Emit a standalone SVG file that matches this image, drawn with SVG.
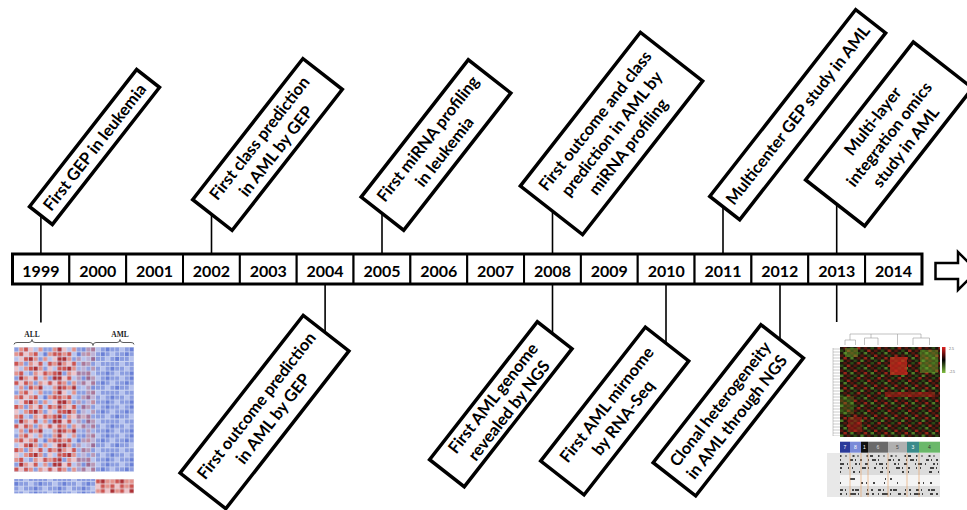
<svg xmlns="http://www.w3.org/2000/svg" width="967" height="510" viewBox="0 0 967 510">
<style>
.box{fill:#fff;stroke:#000;stroke-width:3.5}
.lbl{font-family:Lato,"Open Sans",sans-serif;font-weight:700;font-size:16.5px;text-anchor:middle;fill:#000}
.yr{font-family:Lato,"Open Sans",sans-serif;font-weight:700;font-size:16px;text-anchor:middle;fill:#000}
.cell{fill:#fff;stroke:#000;stroke-width:2}
.conn line{stroke:#000;stroke-width:1.6}
.R{fill:#cd5450}.D{fill:#ad3034}.S{fill:#e4928b}.P{fill:#efc4c9}.L{fill:#b7c3ee}.B{fill:#8b9de0}.K{fill:#6a80d6}
.hr{fill:#561810}.hR{fill:#9a2418}.hg{fill:#2c4a16}.hG{fill:#4f7f28}
.mut{stroke:#111;stroke-width:1.6;fill:none}
.sep{stroke:#e8a060;stroke-width:0.6}
.tiny{font-family:"Liberation Sans",sans-serif;font-size:5px;text-anchor:middle}
</style>
<defs>
<pattern id="pL" x="14" y="347" width="33.6" height="43.2" patternUnits="userSpaceOnUse">
<rect width="33.6" height="43.2" fill="#d8def3"/>
<path class="B" d="M0.4 0.4h4v4h-4zM29.2 0.4h4v4h-4zM24.4 10h4v4h-4zM10 14.8h4v4h-4zM29.2 19.6h4v4h-4zM14.8 24.4h4v4h-4zM0.4 29.2h4v4h-4zM19.6 34h4v4h-4zM10 38.8h4v4h-4z"/>
<path class="S" d="M5.2 0.4h4v4h-4zM24.4 0.4h4v4h-4zM0.4 5.2h4v4h-4zM14.8 5.2h4v4h-4zM19.6 10h4v4h-4zM29.2 10h4v4h-4zM5.2 14.8h4v4h-4zM14.8 14.8h4v4h-4zM10 19.6h4v4h-4zM24.4 19.6h4v4h-4zM0.4 24.4h4v4h-4zM19.6 24.4h4v4h-4zM10 29.2h4v4h-4zM29.2 29.2h4v4h-4zM14.8 34h4v4h-4zM24.4 34h4v4h-4zM5.2 38.8h4v4h-4zM19.6 38.8h4v4h-4z"/>
<path class="R" d="M10 0.4h4v4h-4zM5.2 5.2h4v4h-4zM19.6 5.2h4v4h-4zM10 10h4v4h-4zM0.4 14.8h4v4h-4zM24.4 14.8h4v4h-4zM14.8 19.6h4v4h-4zM5.2 24.4h4v4h-4zM29.2 24.4h4v4h-4zM19.6 29.2h4v4h-4zM0.4 34h4v4h-4zM10 34h4v4h-4zM14.8 38.8h4v4h-4z"/>
<path class="P" d="M14.8 0.4h4v4h-4zM10 5.2h4v4h-4zM5.2 10h4v4h-4zM19.6 14.8h4v4h-4zM0.4 19.6h4v4h-4zM24.4 24.4h4v4h-4zM14.8 29.2h4v4h-4zM5.2 34h4v4h-4zM29.2 34h4v4h-4z"/>
<path class="L" d="M19.6 0.4h4v4h-4zM24.4 5.2h4v4h-4zM0.4 10h4v4h-4zM29.2 14.8h4v4h-4zM5.2 19.6h4v4h-4zM10 24.4h4v4h-4zM24.4 29.2h4v4h-4zM0.4 38.8h4v4h-4zM29.2 38.8h4v4h-4z"/>
<path class="D" d="M14.8 10h4v4h-4zM19.6 19.6h4v4h-4zM5.2 29.2h4v4h-4zM24.4 38.8h4v4h-4z"/>
<path class="K" d="M29.2 5.2h4v4h-4z"/>
</pattern>
<pattern id="pB" x="14" y="347" width="24" height="28.8" patternUnits="userSpaceOnUse">
<rect width="24" height="28.8" fill="#d0d8f2"/>
<path class="B" d="M0.4 0.4h4v4h-4zM5.2 0.4h4v4h-4zM14.8 0.4h4v4h-4zM5.2 5.2h4v4h-4zM10 5.2h4v4h-4zM19.6 5.2h4v4h-4zM0.4 10h4v4h-4zM10 10h4v4h-4zM14.8 10h4v4h-4zM0.4 14.8h4v4h-4zM5.2 14.8h4v4h-4zM14.8 14.8h4v4h-4zM19.6 14.8h4v4h-4zM5.2 19.6h4v4h-4zM10 19.6h4v4h-4zM19.6 19.6h4v4h-4zM0.4 24.4h4v4h-4zM10 24.4h4v4h-4zM14.8 24.4h4v4h-4z"/>
<path class="L" d="M10 0.4h4v4h-4zM0.4 5.2h4v4h-4zM19.6 10h4v4h-4zM10 14.8h4v4h-4zM14.8 19.6h4v4h-4zM5.2 24.4h4v4h-4z"/>
<path class="K" d="M19.6 0.4h4v4h-4zM14.8 5.2h4v4h-4zM5.2 10h4v4h-4zM0.4 19.6h4v4h-4zM19.6 24.4h4v4h-4z"/>
</pattern>
<pattern id="pS" x="14" y="479" width="19.2" height="14.4" patternUnits="userSpaceOnUse">
<rect width="19.2" height="14.4" fill="#e6d6dc"/>
<path class="S" d="M0.4 0.4h4v4h-4zM14.8 0.4h4v4h-4zM14.8 5.2h4v4h-4zM5.2 10h4v4h-4z"/>
<path class="R" d="M5.2 0.4h4v4h-4zM0.4 5.2h4v4h-4zM10 5.2h4v4h-4zM10 10h4v4h-4z"/>
<path class="D" d="M10 0.4h4v4h-4zM0.4 10h4v4h-4z"/>
<path class="P" d="M5.2 5.2h4v4h-4zM14.8 10h4v4h-4z"/>
</pattern>
<pattern id="pC" x="57.2" y="347" width="4.8" height="14.4" patternUnits="userSpaceOnUse">
<rect width="4.8" height="14.4" fill="#d8def3"/>
<path class="D" d="M0.4 0.4h4v4h-4zM0.4 10h4v4h-4z"/>
<path class="R" d="M0.4 5.2h4v4h-4z"/>
</pattern>
<pattern id="pRG" x="840" y="347" width="20.4" height="15" patternUnits="userSpaceOnUse">
<rect width="20.4" height="15" fill="#1e150d"/>
<path class="hr" d="M3.4 0h3.4v2.5h-3.4zM13.6 2.5h3.4v2.5h-3.4zM10.2 5h3.4v2.5h-3.4zM0 7.5h3.4v2.5h-3.4zM17 10h3.4v2.5h-3.4zM6.8 12.5h3.4v2.5h-3.4z"/>
<path class="hR" d="M17 0h3.4v2.5h-3.4zM6.8 2.5h3.4v2.5h-3.4zM13.6 7.5h3.4v2.5h-3.4zM3.4 10h3.4v2.5h-3.4z"/>
<path class="hg" d="M10.2 0h3.4v2.5h-3.4zM0 2.5h3.4v2.5h-3.4zM17 5h3.4v2.5h-3.4zM6.8 7.5h3.4v2.5h-3.4zM13.6 12.5h3.4v2.5h-3.4z"/>
<path class="hG" d="M3.4 5h3.4v2.5h-3.4zM10.2 10h3.4v2.5h-3.4zM0 12.5h3.4v2.5h-3.4z"/>
</pattern>
<pattern id="pDen" x="833" y="348" width="7" height="3" patternUnits="userSpaceOnUse">
<line x1="0" y1="1" x2="7" y2="1" stroke="#999" stroke-width="0.5"/>
</pattern>
<linearGradient id="gLeg" x1="0" y1="0" x2="0" y2="1">
<stop offset="0" stop-color="#e02020"/>
<stop offset="0.5" stop-color="#000"/>
<stop offset="1" stop-color="#80c040"/>
</linearGradient>
</defs>
<rect width="967" height="510" fill="#fff"/>

<g id="connectors" class="conn">
<line x1="40.9" y1="211" x2="40.9" y2="254"/>
<line x1="211.5" y1="209" x2="211.5" y2="254"/>
<line x1="382" y1="208" x2="382" y2="254"/>
<line x1="552.5" y1="206" x2="552.5" y2="254"/>
<line x1="723" y1="202" x2="723" y2="254"/>
<line x1="836.7" y1="198" x2="836.7" y2="254"/>
<line x1="40.9" y1="284" x2="40.9" y2="322.5"/>
<line x1="325.1" y1="284" x2="325.1" y2="338"/>
<line x1="552.5" y1="284" x2="552.5" y2="339"/>
<line x1="666" y1="284" x2="666" y2="348"/>
<line x1="780" y1="284" x2="780" y2="345"/>
<line x1="836.7" y1="284" x2="836.7" y2="322"/>
</g>

<g id="timeline">
<g id="y1999"><rect class="cell" x="12.5" y="254" width="56.84" height="30"/><text class="yr" x="40.9" y="277">1999</text></g>
<g id="y2000"><rect class="cell" x="69.34" y="254" width="56.84" height="30"/><text class="yr" x="97.8" y="277">2000</text></g>
<g id="y2001"><rect class="cell" x="126.18" y="254" width="56.84" height="30"/><text class="yr" x="154.6" y="277">2001</text></g>
<g id="y2002"><rect class="cell" x="183.02" y="254" width="56.84" height="30"/><text class="yr" x="211.4" y="277">2002</text></g>
<g id="y2003"><rect class="cell" x="239.86" y="254" width="56.84" height="30"/><text class="yr" x="268.3" y="277">2003</text></g>
<g id="y2004"><rect class="cell" x="296.7" y="254" width="56.84" height="30"/><text class="yr" x="325.1" y="277">2004</text></g>
<g id="y2005"><rect class="cell" x="353.54" y="254" width="56.84" height="30"/><text class="yr" x="382" y="277">2005</text></g>
<g id="y2006"><rect class="cell" x="410.38" y="254" width="56.84" height="30"/><text class="yr" x="438.8" y="277">2006</text></g>
<g id="y2007"><rect class="cell" x="467.22" y="254" width="56.84" height="30"/><text class="yr" x="495.6" y="277">2007</text></g>
<g id="y2008"><rect class="cell" x="524.06" y="254" width="56.84" height="30"/><text class="yr" x="552.5" y="277">2008</text></g>
<g id="y2009"><rect class="cell" x="580.9" y="254" width="56.84" height="30"/><text class="yr" x="609.3" y="277">2009</text></g>
<g id="y2010"><rect class="cell" x="637.74" y="254" width="56.84" height="30"/><text class="yr" x="666.2" y="277">2010</text></g>
<g id="y2011"><rect class="cell" x="694.58" y="254" width="56.84" height="30"/><text class="yr" x="723" y="277">2011</text></g>
<g id="y2012"><rect class="cell" x="751.42" y="254" width="56.84" height="30"/><text class="yr" x="779.8" y="277">2012</text></g>
<g id="y2013"><rect class="cell" x="808.26" y="254" width="56.84" height="30"/><text class="yr" x="836.7" y="277">2013</text></g>
<g id="y2014"><rect class="cell" x="865.1" y="254" width="56.84" height="30"/><text class="yr" x="893.5" y="277">2014</text></g>
<rect x="12.5" y="254" width="909.5" height="30" fill="none" stroke="#000" stroke-width="3"/>
</g>
<g id="arrow"><polygon points="935.5,263 958,263 958,252 977,271 958,290 958,279 935.5,279" fill="#fff" stroke="#000" stroke-width="2.5" stroke-linejoin="miter"/></g>

<g id="e1999" transform="translate(94.5,147) rotate(-52)"><rect class="box" x="-87" y="-14.5" width="174" height="29"/><text class="lbl" y="6">First GEP in leukemia</text></g>
<g id="e2002" transform="translate(267.5,144.5) rotate(-52)"><rect class="box" x="-89.5" y="-25" width="179" height="50"/><text class="lbl" y="-4.5">First class prediction</text><text class="lbl" y="16.5">in AML by GEP</text></g>
<g id="e2005" transform="translate(436,145) rotate(-52)"><rect class="box" x="-87" y="-27" width="174" height="54"/><text class="lbl" y="-4.5">First miRNA profiling</text><text class="lbl" y="16.5">in leukemia</text></g>
<g id="e2008top" transform="translate(611.5,133.5) rotate(-52)"><rect class="box" x="-97.5" y="-39.5" width="195" height="79"/><text class="lbl" y="-15">First outcome and class</text><text class="lbl" y="6">prediction in AML by</text><text class="lbl" y="27">miRNA profiling</text></g>
<g id="e2011" transform="translate(797.7,114.7) rotate(-52)"><rect class="box" x="-118.5" y="-19" width="237" height="38"/><text class="lbl" y="6">Multicenter GEP study in AML</text></g>
<g id="e2013top" transform="translate(889,134) rotate(-52)"><rect class="box" x="-87.5" y="-37.5" width="175" height="75"/><text class="lbl" y="-15">Multi-layer</text><text class="lbl" y="6">integration omics</text><text class="lbl" y="27">study in AML</text></g>
<g id="e2004" transform="translate(264.5,412) rotate(-52)"><rect class="box" x="-100" y="-29" width="200" height="58"/><text class="lbl" y="-4.5">First outcome prediction</text><text class="lbl" y="16.5">in AML by GEP</text></g>
<g id="e2008" transform="translate(500.8,404.2) rotate(-52)"><rect class="box" x="-87.5" y="-22" width="175" height="44"/><text class="lbl" y="-4">First AML genome</text><text class="lbl" y="16">revealed by NGS</text></g>
<g id="e2010" transform="translate(614.7,411) rotate(-52)"><rect class="box" x="-85" y="-27.5" width="170" height="55"/><text class="lbl" y="-4.5">First AML mirnome</text><text class="lbl" y="16.5">by RNA-Seq</text></g>
<g id="e2012" transform="translate(728.3,410.3) rotate(-52)"><rect class="box" x="-87.5" y="-27" width="175" height="54"/><text class="lbl" y="-4.5">Clonal heterogeneity</text><text class="lbl" y="16.5">in AML through NGS</text></g>

<g id="heatmap1999">
<text x="32" y="337" font-family="'Liberation Serif',serif" font-weight="700" font-size="7.5" text-anchor="middle" fill="#222">ALL</text>
<text x="120" y="337" font-family="'Liberation Serif',serif" font-weight="700" font-size="7.5" text-anchor="middle" fill="#222">AML</text>
<path d="M14 344.5Q14 342.5 17 342.5L29 342.5Q32 342.5 32 339.5Q32 342.5 35 342.5L90 342.5Q93 342.5 93 345.5Q93 342.5 96 342.5L117 342.5Q120 342.5 120 339.5Q120 342.5 123 342.5L131 342.5Q134 342.5 134 344.5" fill="none" stroke="#333" stroke-width="0.8"/>
<rect x="14" y="347" width="81.6" height="124.8" fill="url(#pL)"/>
<rect x="76.4" y="347" width="19.2" height="124.8" fill="url(#pB)" opacity="0.5"/>
<rect x="57.2" y="347" width="4.8" height="124.8" fill="url(#pC)"/>
<rect x="95.6" y="347" width="38.4" height="124.8" fill="url(#pB)"/>
<rect x="14" y="479" width="81.6" height="14.4" fill="url(#pB)"/>
<rect x="95.6" y="479" width="38.4" height="14.4" fill="url(#pS)"/>
</g>

<g id="heatmap2013">
<path d="M850 334H921M850 334V340M845 340H855.5M845 340V345M855.5 340V345M871 334V338M864.5 338H878M864.5 338V345M878 338V345M897.5 334V345M921 334V338M913 338H929.5M913 338V345M929.5 338V345" fill="none" stroke="#999" stroke-width="0.6"/>
<rect x="833" y="348" width="7" height="88" fill="url(#pDen)"/>
<line x1="833" y1="348" x2="833" y2="436" stroke="#999" stroke-width="0.5"/>
<rect x="840" y="347" width="100" height="90" fill="url(#pRG)"/>
<rect x="890" y="357" width="17" height="18" fill="#c8281c" opacity="0.75"/>
<rect x="920" y="350" width="18" height="23" fill="#6aa02a" opacity="0.5"/>
<rect x="845" y="348" width="13" height="9" fill="#6aa02a" opacity="0.5"/>
<rect x="885" y="392" width="50" height="5" fill="#b02018" opacity="0.55"/>
<rect x="848" y="417" width="14" height="15" fill="#b02018" opacity="0.5"/>
<rect x="840" y="396" width="14" height="18" fill="#5a8a20" opacity="0.35"/>
<rect x="942" y="347" width="3.5" height="26" fill="url(#gLeg)"/>
<text x="949" y="350" font-family="'Liberation Sans',sans-serif" font-size="3.5" fill="#666">2.5</text>
<text x="949" y="373" font-family="'Liberation Sans',sans-serif" font-size="3.5" fill="#666">-2.5</text>
<rect x="840" y="441.7" width="10" height="11" fill="#2a3a9a"/>
<rect x="850" y="441.7" width="11" height="11" fill="#7a8ad8"/>
<rect x="861" y="441.7" width="7" height="11" fill="#101010"/>
<rect x="868" y="441.7" width="20" height="11" fill="#6a6a6a"/>
<rect x="888" y="441.7" width="19" height="11" fill="#b0b0b0"/>
<rect x="907" y="441.7" width="12" height="11" fill="#3a8a8a"/>
<rect x="919" y="441.7" width="21" height="11" fill="#6ab86a"/>
<text class="tiny" x="845" y="449" fill="#fff">7</text>
<text class="tiny" x="855.5" y="449" fill="#fff">8</text>
<text class="tiny" x="864.5" y="449" fill="#fff">1</text>
<text class="tiny" x="878" y="449" fill="#ddd">6</text>
<text class="tiny" x="897.5" y="449" fill="#444">5</text>
<text class="tiny" x="913" y="449" fill="#fff">3</text>
<text class="tiny" x="929.5" y="449" fill="#333">4</text>
<rect x="827" y="453" width="13" height="44" fill="#e8e8e8"/>
<rect x="840" y="453" width="100" height="44" fill="#dcdcdc"/>
<rect x="840" y="475" width="100" height="11" fill="#f4f4f4"/>
<line class="mut" x1="840" y1="456" x2="940" y2="456" stroke-dasharray="1.5 4 1 6 2 3 1 8 1.5 2 3 5"/>
<line class="mut" x1="840" y1="460" x2="940" y2="460" stroke-dasharray="1 9 3 2 1 4 2 6 1 3 4 2"/>
<line class="mut" x1="840" y1="464" x2="940" y2="464" stroke-dasharray="4 3 1 7 2 2 1 5 3 8 1 2"/>
<line class="mut" x1="840" y1="468" x2="940" y2="468" stroke-dasharray="2 6 1 3 1 9 4 2 1 5"/>
<line class="mut" x1="840" y1="472" x2="940" y2="472" stroke-dasharray="1 12 2 4 1 20 3 6"/>
<line class="mut" x1="840" y1="479" x2="940" y2="479" stroke-dasharray="0 10 5 30 1 4 2 40"/>
<line class="mut" x1="840" y1="483" x2="940" y2="483" stroke-dasharray="1 20 2 3 1 6 2 9 1 12"/>
<line class="mut" x1="840" y1="490" x2="940" y2="490" stroke-dasharray="3 2 1 6 2 1 4 8 1 3 2 5"/>
<line class="mut" x1="840" y1="494" x2="940" y2="494" stroke-dasharray="2 4 1 3 6 2 1 7 3 3"/>
<line class="sep" x1="850" y1="453" x2="850" y2="497"/>
<line class="sep" x1="861" y1="453" x2="861" y2="497"/>
<line class="sep" x1="868" y1="453" x2="868" y2="497"/>
<line class="sep" x1="888" y1="453" x2="888" y2="497"/>
<line class="sep" x1="907" y1="453" x2="907" y2="497"/>
<line class="sep" x1="919" y1="453" x2="919" y2="497"/>
</g>
</svg>
